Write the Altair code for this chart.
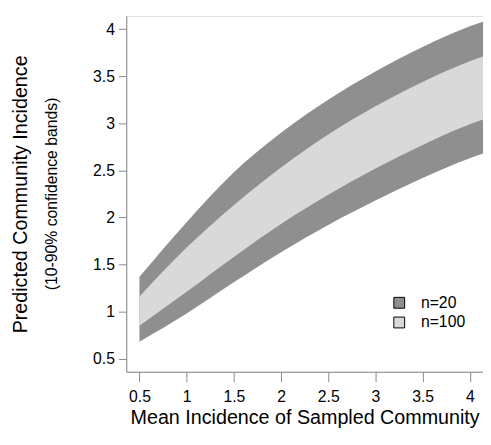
import altair as alt
import pandas as pd

# x positions (Mean Incidence of Sampled Community)
x_vals = [0.5, 1.0, 1.5, 2.0, 2.5, 3.0, 3.5, 4.0, 4.14]
# 10-90% bands
n20_lo = [0.68, 0.98, 1.31, 1.63, 1.92, 2.18, 2.42, 2.63, 2.68]
n20_hi = [1.37, 1.95, 2.48, 2.90, 3.25, 3.55, 3.81, 4.03, 4.08]
n100_lo = [0.85, 1.21, 1.58, 1.93, 2.24, 2.52, 2.77, 2.99, 3.04]
n100_hi = [1.16, 1.68, 2.13, 2.53, 2.88, 3.18, 3.44, 3.66, 3.71]

series = ["n=20", "n=100"]
colors = ["#8f8f8f", "#d9d9d9"]
ticks = [0.5, 1, 1.5, 2, 2.5, 3, 3.5, 4]

rows = []
for name, lo, hi in [("n=20", n20_lo, n20_hi), ("n=100", n100_lo, n100_hi)]:
    for xv, l, h in zip(x_vals, lo, hi):
        rows.append({"x": xv, "lo": l, "hi": h, "series": name})
df = pd.DataFrame(rows)

FONT = "Liberation Sans"

xenc = alt.X("x:Q", scale=alt.Scale(domain=[0.36, 4.14], nice=False, zero=False),
             axis=alt.Axis(values=ticks, format="~g", title="Mean Incidence of Sampled Community",
                           titleY=47, titleBaseline="middle", titleFontSize=20, titleFontWeight="normal",
                           labelFontSize=16, tickSize=10, labelPadding=7, grid=False))
yenc = alt.Y("lo:Q", scale=alt.Scale(domain=[0.36, 4.14], nice=False, zero=False),
             axis=alt.Axis(values=ticks, format="~g", title="Predicted Community Incidence",
                           titleX=-107, titleY=180.5, titleAngle=270, titleBaseline="middle",
                           titleAlign="center",
                           titleFontSize=20, titleFontWeight="normal",
                           labelFontSize=16, tickSize=8, labelPadding=4, grid=False))
color = alt.Color("series:N", scale=alt.Scale(domain=series, range=colors),
                  legend=alt.Legend(title=None, orient="none", legendX=269, legendY=283,
                                    symbolType="square", symbolSize=121,
                                    symbolStrokeColor="black", symbolStrokeWidth=1,
                                    symbolOpacity=1, labelFontSize=16, labelOffset=14,
                                    rowPadding=4, padding=0))

base = alt.Chart(df)
a20 = base.transform_filter(alt.datum.series == "n=20").mark_area(interpolate="monotone", opacity=1).encode(
    x=xenc, y=yenc, y2="hi:Q", color=color)
a100 = base.transform_filter(alt.datum.series == "n=100").mark_area(interpolate="monotone", opacity=1).encode(
    x=xenc, y=yenc, y2="hi:Q", color=color)

sub = alt.Chart(pd.DataFrame({"t": ["(10-90% confidence bands)"]})).mark_text(
    angle=270, fontSize=16, baseline="middle", align="center", font=FONT, color="black"
).encode(x=alt.value(-75), y=alt.value(180.5), text="t:N")

chart = alt.layer(a20, a100, sub).properties(
    width=362, height=361,
    autosize=alt.AutoSizeParams(type="none"),
    padding={"left": 120, "top": 5, "right": 0, "bottom": 59},
).configure_view(stroke=None).configure_axis(
    labelFont=FONT, titleFont=FONT, domainColor="black", tickColor="black",
    labelColor="black", titleColor="black", domainWidth=1, tickWidth=1
).configure_legend(labelFont=FONT, labelColor="black").configure(background="white")

chart.save("out.html", embed_options={"renderer": "svg", "actions": False})
